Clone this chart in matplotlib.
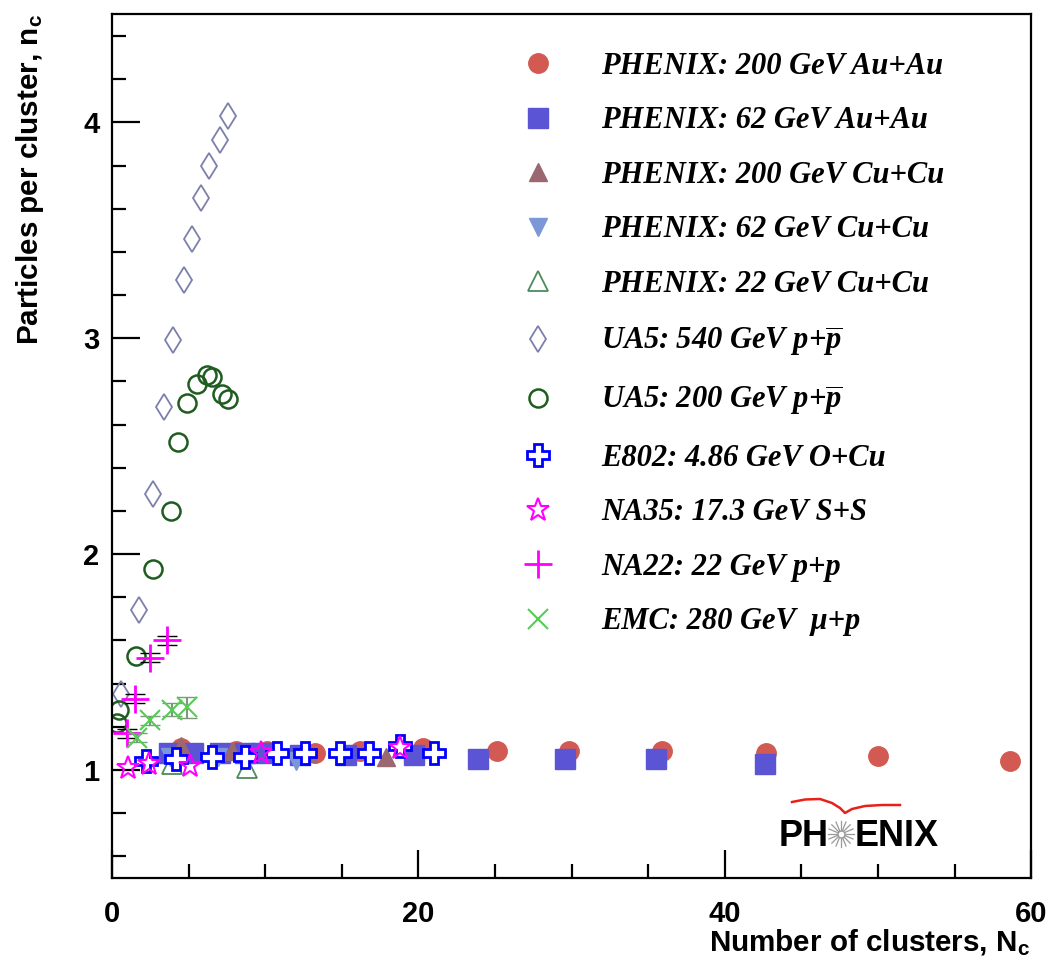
import matplotlib
matplotlib.use("Agg")
import matplotlib.pyplot as plt
from matplotlib.lines import Line2D
import numpy as np

plt.rcParams['mathtext.fontset'] = 'custom'
plt.rcParams['mathtext.it'] = 'Liberation Serif:italic:bold'
plt.rcParams['mathtext.rm'] = 'Liberation Serif:italic:bold'
plt.rcParams['mathtext.bf'] = 'Liberation Sans:bold'

# ---- data ----
au200_x = [4.5, 8.1, 10.1, 13.25, 16.2, 20.3, 25.1, 29.8, 35.9, 42.7, 50.0, 58.6]
au200_y = [1.10, 1.09, 1.09, 1.08, 1.09, 1.10, 1.09, 1.09, 1.09, 1.08, 1.065, 1.04]

au62_x = [3.7, 5.3, 7.05, 8.7, 9.7, 12.3, 15.3, 19.7, 23.9, 29.6, 35.5, 42.6]
au62_y = [1.08, 1.08, 1.08, 1.08, 1.08, 1.07, 1.07, 1.07, 1.05, 1.05, 1.05, 1.03]

cu200_x = [4.5, 7.8, 12.8, 17.9]
cu200_y = [1.11, 1.09, 1.08, 1.06]

cu62_x = [3.8, 6.9, 12.0]
cu62_y = [1.06, 1.06, 1.04]

cu22_x = [3.9, 8.8]
cu22_y = [1.03, 1.01]

ua540_x = [0.6, 1.78, 2.7, 3.41, 3.96, 4.7, 5.24, 5.79, 6.33, 7.05, 7.59]
ua540_y = [1.35, 1.74, 2.28, 2.68, 2.99, 3.27, 3.46, 3.65, 3.80, 3.92, 4.03]

ua200_x = [0.35, 0.45, 1.57, 2.7, 3.83, 4.33, 4.92, 5.53, 6.18, 6.51, 7.16, 7.59]
ua200_y = [1.22, 1.28, 1.53, 1.93, 2.20, 2.52, 2.70, 2.79, 2.83, 2.82, 2.74, 2.72]

e802_x = [2.2, 4.2, 6.5, 8.7, 10.8, 12.6, 14.9, 16.8, 18.8, 21.0]
e802_y = [1.04, 1.05, 1.06, 1.06, 1.08, 1.08, 1.08, 1.08, 1.11, 1.08]

na35_x = [1.07, 2.4, 5.1, 9.7, 18.8]
na35_y = [1.01, 1.03, 1.02, 1.08, 1.10]

na22_x = [0.96, 1.5, 2.5, 3.6]
na22_y = [1.17, 1.33, 1.52, 1.60]
na22_err = [0.02, 0.02, 0.02, 0.02]

emc_x = [1.6, 2.5, 3.9, 4.9]
emc_y = [1.15, 1.23, 1.28, 1.29]
emc_err = [0.02, 0.02, 0.03, 0.05]

labels = ['PHENIX: 200 GeV Au+Au', 'PHENIX: 62 GeV Au+Au', 'PHENIX: 200 GeV Cu+Cu',
          'PHENIX: 62 GeV Cu+Cu', 'PHENIX: 22 GeV Cu+Cu',
          r'UA5: 540 GeV p+$\overline{p}$', r'UA5: 200 GeV p+$\overline{p}$',
          'E802: 4.86 GeV O+Cu', 'NA35: 17.3 GeV S+S', 'NA22: 22 GeV p+p',
          'EMC: 280 GeV  \u03bc+p']

fig = plt.figure(figsize=(10.5, 9.59), dpi=100)
ax = fig.add_axes([0.1067, 0.0845, 0.8753, 0.9005])

h = []
h.append(ax.plot(au200_x, au200_y, 'o', color='#d35a52', ms=14, mec='#d35a52', ls='none')[0])
h.append(ax.plot(au62_x, au62_y, 's', color='#5b55d6', ms=15, mec='#5b55d6', ls='none')[0])
h.append(ax.plot(cu200_x, cu200_y, '^', color='#9a6870', ms=13, ls='none')[0])
h.append(ax.plot(cu62_x, cu62_y, 'v', color='#7b97d8', ms=13, ls='none')[0])
h.append(ax.plot(cu22_x, cu22_y, '^', mfc='none', mec='#4e8a5c', ms=15, mew=1.3, ls='none')[0])
h.append(ax.plot(ua540_x, ua540_y, 'd', mfc='none', mec='#7c80aa', ms=13, mew=1.3, ls='none')[0])
h.append(ax.plot(ua200_x, ua200_y, 'o', mfc='none', mec='#1f5c1f', ms=13, mew=1.8, ls='none')[0])
h.append(ax.plot(e802_x, e802_y, 'P', mfc='white', mec='#0000ff', ms=16, mew=2.0, ls='none')[0])
h.append(ax.plot(na35_x, na35_y, '*', mfc='none', mec='#ff00ff', ms=17, mew=1.5, ls='none')[0])
ax.errorbar(na22_x, na22_y, yerr=na22_err, fmt='none', ecolor='black', elinewidth=1.5, capsize=7)
h.append(ax.plot(na22_x, na22_y, '+', color='#ff00ff', ms=20, mew=2.0, ls='none')[0])
ax.errorbar(emc_x, emc_y, yerr=emc_err, fmt='none', ecolor='#7a9a7a', elinewidth=1.5, capsize=7)
h.append(ax.plot(emc_x, emc_y, 'x', color='#55cc55', ms=14, mew=1.5, ls='none')[0])

ax.set_xlim(0, 60)
ax.set_ylim(0.5, 4.5)
ax.set_xticks([0, 20, 40, 60])
ax.set_xticks(np.arange(0, 61, 5), minor=True)
ax.set_yticks([1, 2, 3, 4])
ax.set_yticks(np.arange(0.6, 4.5, 0.2), minor=True)
ax.tick_params(which='both', direction='in', top=False, right=False, width=1.6)
ax.tick_params(which='major', length=20)
ax.tick_params(which='minor', length=10)
ax.tick_params(axis='x', which='major', pad=16)
ax.tick_params(axis='y', which='major', pad=9)
for lab in ax.get_xticklabels() + ax.get_yticklabels():
    lab.set_fontfamily('Liberation Sans')
    lab.set_fontweight('bold')
    lab.set_fontsize(21)
for s in ax.spines.values():
    s.set_linewidth(1.6)

leg = ax.legend(h, labels, loc='upper left', bbox_to_anchor=(0.476, 0.962),
                bbox_transform=fig.transFigure, frameon=False, borderpad=0,
                handlelength=1.5, handletextpad=1.31, labelspacing=0.835,
                prop={'family': 'Liberation Serif', 'weight': 'bold', 'style': 'italic', 'size': 22})

fig.text(1030 / 1050, 1 - 942 / 959, r'Number of clusters, N$_{\mathbf{c}}$', ha='right', va='center',
         fontsize=21.3, fontweight='bold', family='Liberation Sans')
fig.text(30 / 1050, 1 - 14 / 959, r'Particles per cluster, n$_{\mathbf{c}}$', ha='center', va='top',
         rotation=90, fontsize=21.3, fontweight='bold', family='Liberation Sans')

# PHENIX logo
fig.text(779 / 1050, 1 - 836 / 959, 'PH', ha='left', va='center', fontsize=26,
         fontweight='bold', family='Liberation Sans')
fig.text(855 / 1050, 1 - 836 / 959, 'ENIX', ha='left', va='center', fontsize=26,
         fontweight='bold', family='Liberation Sans')
cx, cy = 841 / 1050, 1 - 834 / 959
for a in np.linspace(0, np.pi, 8, endpoint=False):
    dx, dy = 13 * np.cos(a) / 1050, 13 * np.sin(a) / 959
    fig.add_artist(Line2D([cx - dx, cx + dx], [cy - dy, cy + dy], color='#999999', lw=0.9))
fig.add_artist(Line2D([cx], [cy], marker='o', ms=5, mfc='white', mec='#999999', lw=0))
wx = np.array([792, 805, 820, 832, 840, 845, 852, 865, 882, 900]) / 1050
wy = 1 - np.array([802, 799.5, 799, 803, 808, 813, 809, 806, 805, 805]) / 959
fig.add_artist(Line2D(wx, wy, color='#e8201a', lw=1.8))

fig.savefig('out.png', dpi=100)
